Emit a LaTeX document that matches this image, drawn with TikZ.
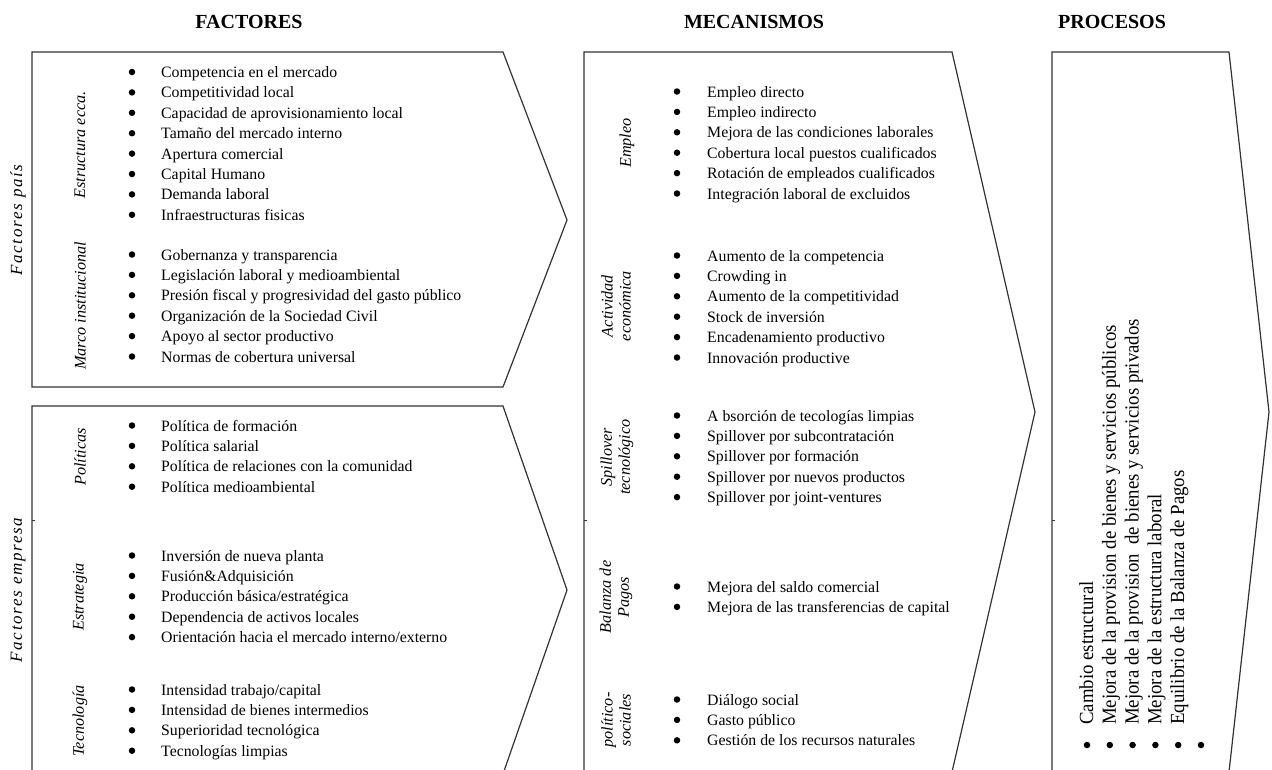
\documentclass[tikz,border=0pt]{standalone}
\usepackage{fontspec}
\setmainfont{Liberation Serif}
\usepackage{graphicx}
\tikzset{
  coltitle/.style={font=\fontsize{20}{24}\selectfont\bfseries,inner sep=0pt},
  arrowbox/.style={draw=black!80,line width=1.2pt,line join=miter},
  itemtext/.style={anchor=base west,inner sep=0pt,font=\fontsize{15.8}{20}\selectfont},
  dotmark/.style={circle,fill=black,inner sep=0pt,minimum size=6.5pt},
  sidelabel/.style={rotate=90,inner sep=0pt,align=center,font=\fontsize{16.2}{18}\selectfont\itshape},
  grouplabel/.style={sidelabel,font=\fontsize{17}{20}\selectfont\itshape\addfontfeature{LetterSpace=10}},
  proctext/.style={rotate=90,anchor=base west,inner sep=0pt,font=\fontsize{20}{24}\selectfont},
}
\newcommand{\itemcol}[5]{%
  % name prefix, bullet x, text x, first baseline, items (one per row)
  \foreach \t [count=\i from 0] in {#5}{%
    \node[dotmark] (#1b\i) at (#2,{#4+\i*20.4-5.5}) {};
    \node[itemtext] (#1t\i) at (#3,{#4+\i*20.4}) {\t};
  }
}

\begin{document}
\begin{tikzpicture}[x=1pt,y=-1pt]
  \clip (0,0) rectangle (1272,769);
  % headings
  \node[coltitle] (hfac) at (249,22) {FACTORES};
  \node[coltitle] (hmec) at (754,22) {MECANISMOS};
  \node[coltitle] (hpro) at (1112,22) {PROCESOS};

  % chevron outlines
  \draw[arrowbox] (32,52) -- (503,52) -- (567,220) -- (503,387) -- (32,387) -- cycle;
  \draw[arrowbox] (32,406) -- (503,406) -- (567,590) -- (503,774) -- (32,774) -- cycle;
  \draw[arrowbox] (584,52) -- (952,52) -- (1035,412) -- (952,772) -- (584,772) -- cycle;
  \draw[arrowbox] (1052,52) -- (1229,52) -- (1269,412) -- (1229,772) -- (1052,772) -- cycle;
  \foreach \x in {32,584,1052}{\draw[black!80,thin] (\x,520) -- ++(3,0);}

  % factores
  \node[grouplabel] (fpais) at (18,220) {Factores país};
  \node[grouplabel] (femp) at (18,590) {Factores empresa};
  \node[sidelabel] (lest) at (80,145) {Estructura ecca.};
  \node[sidelabel] (lmar) at (80,306) {Marco institucional};
  \node[sidelabel] (lpol) at (80,457) {Políticas};
  \node[sidelabel] (lstr) at (80,597) {Estrategia};
  \node[sidelabel] (ltec) at (80,721) {Tecnología};
  \itemcol{est}{132}{161}{77.5}{Competencia en el mercado,Competitividad local,%
    Capacidad de aprovisionamiento local,Tamaño del mercado interno,Apertura comercial,%
    Capital Humano,Demanda laboral,Infraestructuras fisicas}
  \itemcol{mar}{132}{161}{260}{Gobernanza y transparencia,Legislación laboral y medioambiental,%
    Presión fiscal y progresividad del gasto público,Organización de la Sociedad Civil,%
    Apoyo al sector productivo,Normas de cobertura universal}
  \itemcol{pol}{132}{161}{431}{Política de formación,Política salarial,%
    Política de relaciones con la comunidad,Política medioambiental}
  \itemcol{str}{132}{161}{561}{Inversión de nueva planta,Fusión\&Adquisición,%
    Producción básica/estratégica,Dependencia de activos locales,%
    Orientación hacia el mercado interno/externo}
  \itemcol{tec}{132}{161}{695}{Intensidad trabajo/capital,Intensidad de bienes intermedios,%
    Superioridad tecnológica,Tecnologías limpias}

  % mecanismos
  \node[sidelabel] (memp) at (627,143) {Empleo};
  \node[sidelabel] (mact) at (616,306) {Actividad\\económica};
  \node[sidelabel] (mspi) at (617,457) {Spillover\\tecnológico};
  \node[sidelabel] (mbal) at (616,597) {Balanza de\\Pagos};
  \node[sidelabel] (mpol) at (616,720) {político-\\sociales};
  \itemcol{emp}{677}{707}{97}{Empleo directo,Empleo indirecto,%
    Mejora de las condiciones laborales,Cobertura local puestos cualificados,%
    Rotación de empleados cualificados,Integración laboral de excluidos}
  \itemcol{act}{677}{707}{261}{Aumento de la competencia,Crowding in,%
    Aumento de la competitividad,Stock de inversión,Encadenamiento productivo,%
    Innovación productive}
  \itemcol{spi}{677}{707}{421}{A bsorción de tecologías limpias,Spillover por subcontratación,%
    Spillover por formación,Spillover por nuevos productos,Spillover por joint-ventures}
  \itemcol{bal}{677}{707}{592}{Mejora del saldo comercial,Mejora de las transferencias de capital}
  \itemcol{soc}{677}{707}{705}{Diálogo social,Gasto público,Gestión de los recursos naturales}

  % procesos
  \foreach \t [count=\i from 0] in {Cambio estructural,%
    Mejora de la provision de bienes y servicios públicos,%
    Mejora de la provision\ \ de bienes y servicios privados,%
    Mejora de la estructura laboral,Equilibrio de la Balanza de Pagos}{%
    \node[proctext] (pr\i) at ({1093+\i*22.8},725) {\scalebox{0.94}[1]{\t}};
  }
  \foreach \i in {0,...,5}{\node[dotmark] (prb\i) at ({1087+\i*22.8},745) {};}
\end{tikzpicture}
\end{document}
